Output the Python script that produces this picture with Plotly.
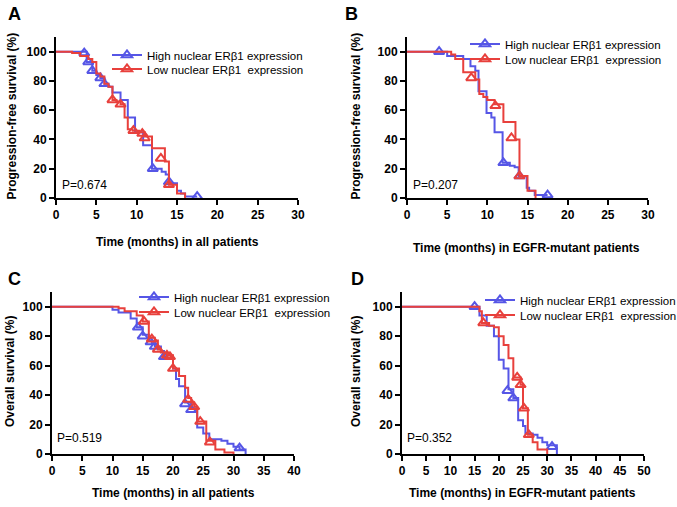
import plotly.graph_objects as go

# ---------------- data ----------------
# Panel A: PFS, all patients
A_high_t = [0, 3.8, 4.5, 5, 5.5, 6, 6.5, 7, 8, 8.9, 9.8, 10.8, 11.9, 13.1, 13.6, 14, 15, 15.5, 16, 17.5]
A_high_s = [100, 93, 87, 84, 82, 78, 76, 72, 67, 55, 45, 36, 20, 18, 16, 10, 5, 3, 1, 1]
A_high_ct = [3.5, 4.0, 4.5, 5.5, 6.0, 12.0, 14.0, 17.5]
A_high_cs = [99, 93, 87, 82, 78, 20, 11, 1]
A_low_t = [0, 2, 3, 4, 4.5, 5, 5.5, 6, 6.5, 7, 7.5, 8, 8.5, 8.9, 9.5, 10.3, 11, 11.9, 13.5, 14, 15, 16]
A_low_s = [100, 99, 97, 95, 93, 85, 83, 78, 76, 67, 66, 64, 55, 47, 46, 45, 42, 34, 25, 9, 3, 0]
A_low_ct = [7.0, 8.0, 9.6, 10.7, 11.0, 13.0, 14.0]
A_low_cs = [67, 64, 46, 44, 41, 27, 9]

# Panel B: PFS, EGFR-mutant patients
B_high_t = [0, 5, 7, 7.9, 8.5, 8.9, 9.9, 10.5, 10.9, 11.9, 12.8, 13.4, 13.9, 14.9, 15.2, 15.9, 17.5]
B_high_s = [100, 97, 95, 90, 87, 73, 58, 55, 45, 24, 22, 21, 15, 7, 5, 2, 2]
B_high_ct = [4.0, 12.0, 14.0, 17.5]
B_high_cs = [100, 24, 15, 2]
B_low_t = [0, 5.5, 6, 7, 8.5, 9, 9.5, 10, 10.9, 12, 13.5, 14, 15, 16]
B_low_s = [100, 98, 95, 86, 81, 71, 69, 67, 64, 52, 40, 15, 5, 0]
B_low_ct = [8.0, 11.0, 13.0, 14.0]
B_low_cs = [82, 63, 41, 15]

# Panel C: OS, all patients
C_high_t = [0, 10, 11, 13, 14, 15, 16, 16.5, 17, 18, 18.5, 19, 20, 20.5, 21, 22, 23, 24, 25, 26, 28, 29, 30, 31, 32]
C_high_s = [100, 98, 96, 92, 86, 81, 77, 75, 73, 70, 66, 65, 58, 51, 46, 35, 31, 18, 14, 10, 9, 7, 5, 3, 0]
C_high_ct = [14.2, 15.0, 16.3, 17.0, 18.5, 22.0, 23.0, 31.0]
C_high_cs = [86, 80, 76, 73, 66, 34, 30, 4]
C_low_t = [0, 11, 12, 14, 15, 16, 17, 17.5, 18, 19, 20, 21, 22, 22.5, 23, 23.5, 24, 25.5, 27, 28.5, 30]
C_low_s = [100, 99, 97, 94, 90, 79, 77, 71, 69, 67, 58, 53, 45, 38, 35, 32, 22, 9, 3, 1, 0]
C_low_ct = [15.2, 16.5, 17.5, 19.0, 19.5, 20.0, 22.5, 23.5, 24.5, 26.1]
C_low_cs = [90, 78, 71, 67, 66, 58, 37, 32, 22, 8]

# Panel D: OS, EGFR-mutant patients
D_high_t = [0, 16, 17.5, 19, 20, 21, 22, 23, 24, 25, 25.5, 27, 28, 29, 30, 32]
D_high_s = [100, 94, 87, 80, 64, 58, 44, 38, 23, 19, 14, 13, 11, 8, 6, 0]
D_high_ct = [15.0, 21.8, 23.0, 31.0]
D_high_cs = [100, 43, 38, 5]
D_low_t = [0, 16, 16.5, 18, 19, 20, 21, 22, 23, 24.5, 25, 26, 27, 28, 30]
D_low_s = [100, 97, 89, 87, 86, 80, 74, 65, 52, 47, 31, 13, 8, 3, 0]
D_low_ct = [16.8, 23.8, 24.5, 25.2, 26.2]
D_low_cs = [89, 52, 47, 31, 13]

P_values = ["P=0.674", "P=0.207", "P=0.519", "P=0.352"]
x_titles = ["Time (months) in all patients", "Time (months) in EGFR-mutant patients",
            "Time (months) in all patients", "Time (months) in EGFR-mutant patients"]
y_titles = ["Progression-free survival (%)", "Progression-free survival (%)",
            "Overall survival (%)", "Overall survival (%)"]
panel_letters = ["A", "B", "C", "D"]
x_max = [30, 30, 40, 50]
high_label = "High nuclear ERβ1 expression"
low_label = "Low nuclear ERβ1  expression"

# ---------------- styling ----------------
W, H = 677, 507
BLUE = "#5656E6"
RED = "#E8403C"
SANS = "Liberation Sans, Arial, sans-serif"
TICKFONT = dict(family=SANS, size=12, color="black", weight="bold")
TITLEFONT = dict(family="Liberation Sans Narrow, Arial Narrow, Liberation Sans, sans-serif", size=12, color="black")

# plot area pixel boxes: (left, right, bottom pixel, top pixel)
boxes = [(56, 298, 198, 37), (407, 648, 198, 37), (52, 294, 454, 292), (402, 644, 454, 292)]

panels = [
    (A_high_t, A_high_s, A_high_ct, A_high_cs, A_low_t, A_low_s, A_low_ct, A_low_cs),
    (B_high_t, B_high_s, B_high_ct, B_high_cs, B_low_t, B_low_s, B_low_ct, B_low_cs),
    (C_high_t, C_high_s, C_high_ct, C_high_cs, C_low_t, C_low_s, C_low_ct, C_low_cs),
    (D_high_t, D_high_s, D_high_ct, D_high_cs, D_low_t, D_low_s, D_low_ct, D_low_cs),
]

# legend text left edge, row centres (pixels) and font size
legend_text_x = [146, 504, 173, 519]
legend_rows = [(55, 69), (44, 59), (297, 312), (300, 315)]
legend_size = [11.5, 11.5, 11.5, 11.5]
xtitle_pos = [(177, 242), (526, 248), (173, 493), (522, 493)]
ytitle_x = [12, 356, 10, 356]
letter_pos = [(14, 14), (352, 14), (14, 279), (357, 279)]
p_pos = [(0.5, 9), (0.5, 9), (0.5, 11), (0.6, 11)]

fig = go.Figure()
layout = dict(width=W, height=H, margin=dict(l=0, r=0, t=0, b=0, autoexpand=False),
              paper_bgcolor="white", plot_bgcolor="white", annotations=[], hovermode=False)

leg_idx = 0
for i, (ht, hs, hct, hcs, lt, ls, lct, lcs) in enumerate(panels):
    n = "" if i == 0 else str(i + 1)
    xa, ya = "x" + n, "y" + n
    l, r, b, t = boxes[i]
    for k, (tt, ss, ct, cs, col, lab) in enumerate([(ht, hs, hct, hcs, BLUE, high_label),
                                                    (lt, ls, lct, lcs, RED, low_label)]):
        leg_idx += 1
        leg = "legend" if leg_idx == 1 else "legend" + str(leg_idx)
        fig.add_trace(go.Scatter(x=tt, y=ss, mode="lines", line=dict(color=col, width=2, shape="hv"),
                                 xaxis=xa, yaxis=ya, showlegend=False, hoverinfo="skip", cliponaxis=False))
        fig.add_trace(go.Scatter(x=ct, y=cs, mode="markers",
                                 marker=dict(symbol="triangle-up-open", size=9, color=col, line=dict(width=2, color=col)),
                                 xaxis=xa, yaxis=ya, showlegend=False, cliponaxis=False, hoverinfo="skip"))
        fig.add_trace(go.Scatter(x=[None], y=[None], mode="lines+markers", name=lab,
                                 line=dict(color=col, width=2),
                                 marker=dict(symbol="triangle-up-open", size=9, color=col, line=dict(width=2, color=col)),
                                 xaxis=xa, yaxis=ya, legend=leg, showlegend=True))
        layout[leg] = dict(x=(legend_text_x[i] - 39) / W, y=1 - legend_rows[i][k] / H,
                           xanchor="left", yanchor="middle", xref="paper", yref="paper",
                           bgcolor="rgba(0,0,0,0)", borderwidth=0,
                           font=dict(family=SANS, size=legend_size[i], color="black"), itemwidth=30)
    axcommon = dict(showgrid=False, zeroline=False, showline=True, linecolor="black", linewidth=2,
                    ticks="outside", ticklen=5, tickwidth=2, tickcolor="black", tickfont=TICKFONT,
                    automargin=False)
    layout["xaxis" + n] = dict(axcommon, domain=[l / W, r / W], range=[0, x_max[i]], dtick=5, tick0=0,
                               anchor=ya)
    layout["yaxis" + n] = dict(axcommon, domain=[(H - b) / H, (H - t) / H], range=[0, 110],
                               tickvals=[0, 20, 40, 60, 80, 100], anchor=xa)
    layout["annotations"].append(dict(text=P_values[i], x=p_pos[i][0], y=p_pos[i][1], xref=xa, yref=ya,
                                      xanchor="left", yanchor="middle", showarrow=False,
                                      font=dict(family=SANS, size=12, color="black")))
    cx, cy = xtitle_pos[i]
    layout["annotations"].append(dict(text="<b>" + x_titles[i] + "</b>", x=cx / W, y=1 - cy / H, xref="paper", yref="paper",
                                      xanchor="center", yanchor="middle", showarrow=False, font=TITLEFONT))
    layout["annotations"].append(dict(text="<b>" + y_titles[i] + "</b>", x=ytitle_x[i] / W, y=1 - ((b + t) / 2 - 1) / H,
                                      xref="paper", yref="paper", textangle=-90,
                                      xanchor="center", yanchor="middle", showarrow=False,
                                      font=dict(family=SANS, size=12, color="black")))
    px, py = letter_pos[i]
    layout["annotations"].append(dict(text="<b>" + panel_letters[i] + "</b>", x=px / W, y=1 - py / H, xref="paper", yref="paper",
                                      xanchor="center", yanchor="middle", showarrow=False,
                                      font=dict(family=SANS, size=18, color="black")))

fig.update_layout(**layout)
fig.write_html("out.html", config={"displayModeBar": False},
               post_script="document.body.style.margin='0px';document.body.style.overflow='hidden';"
                           "document.documentElement.style.overflow='hidden';")
